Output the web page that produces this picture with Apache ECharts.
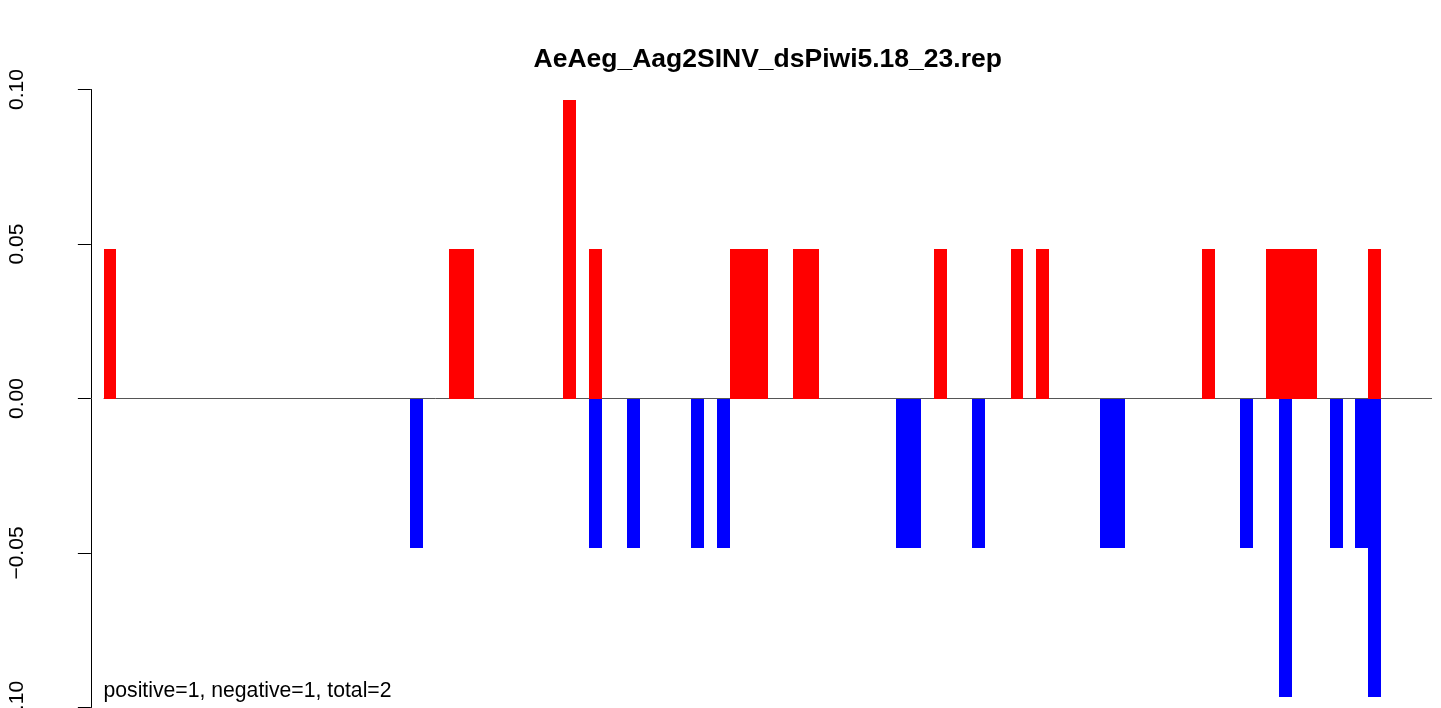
<!DOCTYPE html>
<html>
<head>
<meta charset="utf-8">
<script src="https://cdn.jsdelivr.net/npm/echarts@6/dist/echarts.min.js"></script>
<style>
html,body{margin:0;padding:0;background:#fff;}
#chart{width:1441px;height:708px;}
</style>
</head>
<body>
<div id="chart"></div>
<script>
// Positions (1-based) and values
const posPositions = [1, 28, 29, 37, 39, 50, 51, 52, 55, 56, 66, 72, 74, 87, 92, 93, 94, 95, 100];
const posValues    = [0.0484, 0.0484, 0.0484, 0.0967, 0.0484, 0.0484, 0.0484, 0.0484, 0.0484, 0.0484, 0.0484, 0.0484, 0.0484, 0.0484, 0.0484, 0.0484, 0.0484, 0.0484, 0.0484];
const negPositions = [25, 39, 42, 47, 49, 63, 64, 69, 79, 80, 90, 93, 97, 99, 100];
const negValues    = [-0.0484, -0.0484, -0.0484, -0.0484, -0.0484, -0.0484, -0.0484, -0.0484, -0.0484, -0.0484, -0.0484, -0.0967, -0.0484, -0.0484, -0.0967];
const xStart = 1, xEnd = 105;
const yTicks = [-0.1, -0.05, 0, 0.05, 0.1];
const titleText = 'AeAeg_Aag2SINV_dsPiwi5.18_23.rep';
const noteText = 'positive=1, negative=1, total=2';

const FONT = '"Liberation Sans", Arial, Helvetica, sans-serif';
const chart = echarts.init(document.getElementById('chart'), null, {renderer: 'canvas'});

const span = xEnd - xStart;
const xMin = xStart - 0.04 * span, xMax = xEnd + 0.04 * span;
const unitPx = 12.773;
const gridLeft = 50.5;
const gridWidth = (xMax - xMin) * unitPx;

function rectItem(color) {
  return function (params, api) {
    const x = api.value(0), v = api.value(1);
    const p0 = api.coord([x, 0]);
    const p1 = api.coord([x + 1, v]);
    const x0 = Math.round(p0[0]), x1 = Math.round(p1[0]);
    const y0 = Math.round(p0[1]), y1 = Math.round(p1[1]);
    return {
      type: 'rect',
      shape: {x: x0, y: Math.min(y0, y1), width: x1 - x0, height: Math.abs(y1 - y0)},
      style: {fill: color}
    };
  };
}

chart.setOption({
  animation: false,
  backgroundColor: '#ffffff',
  grid: {left: gridLeft, top: 89.5, width: gridWidth, height: 618, containLabel: false, outerBoundsMode: 'none'},
  xAxis: {
    type: 'value', min: xMin, max: xMax, show: false
  },
  yAxis: {
    type: 'value', min: yTicks[0], max: yTicks[yTicks.length - 1], interval: 0.05,
    axisLine: {show: true, lineStyle: {color: '#000', width: 1}},
    axisTick: {show: true, length: 13, lineStyle: {color: '#000', width: 1}},
    splitLine: {show: false},
    axisLabel: {
      rotate: 90, margin: 23, color: '#000', fontFamily: FONT, fontSize: 21,
      formatter: function (v) { return v.toFixed(2).replace('-', '\u2212'); }
    }
  },
  graphic: [
    {type: 'text', x: 767.7, y: 73, style: {text: titleText, font: 'bold 26.5px ' + FONT, fill: '#000', textAlign: 'center', textVerticalAlign: 'bottom'}},
    {type: 'text', x: 103.5, y: 702, style: {text: noteText, font: '21.2px ' + FONT, fill: '#000', textAlign: 'left', textVerticalAlign: 'bottom'}}
  ],
  series: [
    {
      type: 'line', data: [[xStart, 0], [xEnd, 0]], symbol: 'none', z: 1,
      lineStyle: {color: '#555555', width: 1}, silent: true
    },
    {
      type: 'custom', renderItem: rectItem('#ff0000'), z: 2,
      data: posPositions.map((p, i) => [p, posValues[i]])
    },
    {
      type: 'custom', renderItem: rectItem('#0000ff'), z: 2,
      data: negPositions.map((p, i) => [p, negValues[i]])
    }
  ]
});
</script>
</body>
</html>
